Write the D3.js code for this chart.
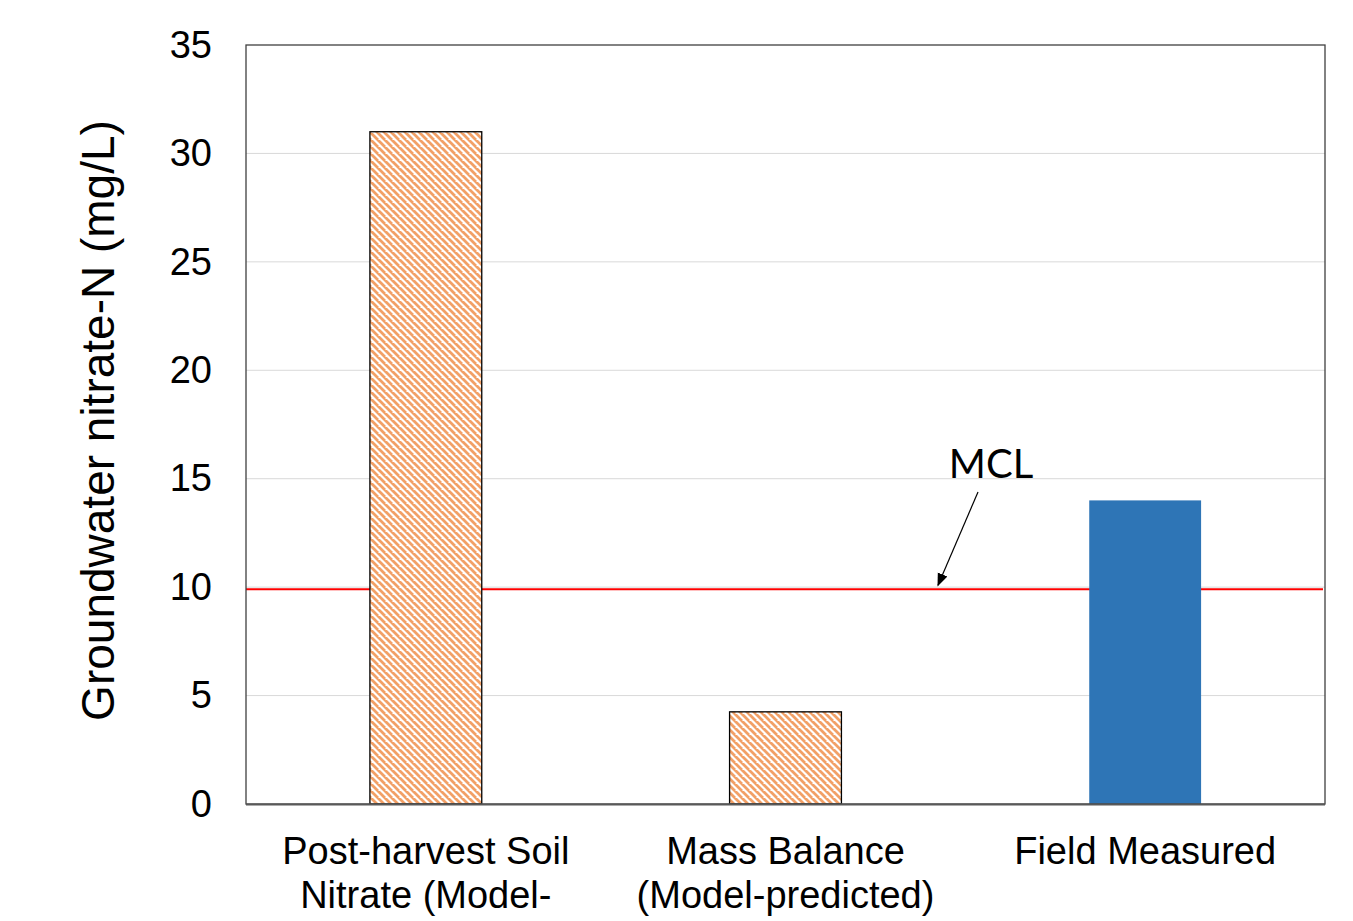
<!DOCTYPE html>
<html>
<head>
<meta charset="utf-8">
<script src="https://cdn.jsdelivr.net/npm/d3@7"></script>
<style>
  html, body { margin: 0; padding: 0; background: #fff; }
  svg { display: block; }
</style>
</head>
<body>
<svg id="chart" width="1353" height="921"></svg>
<script>
// ---- Data ----
const categories = ["Post-harvest Soil Nitrate (Model-predicted)", "Mass Balance (Model-predicted)", "Field Measured"];
const categoryLabelLines = [["Post-harvest Soil", "Nitrate (Model-"], ["Mass Balance", "(Model-predicted)"], ["Field Measured"]];
const values = [31, 4.25, 14];
const fillTypes = ["hatch", "hatch", "solid"];
const mclValue = 9.9;
const mclLabel = "MCL";
const yTicks = [0, 5, 10, 15, 20, 25, 30, 35];
const yTitle = "Groundwater nitrate-N (mg/L)";

// ---- Layout ----
const plot = { left: 246, right: 1325, top: 45, bottom: 804 };
const svg = d3.select("#chart");

const defs = svg.append("defs");
const pat = defs.append("pattern")
  .attr("id", "hatch").attr("patternUnits", "userSpaceOnUse")
  .attr("width", 7).attr("height", 7);
pat.append("rect").attr("width", 7).attr("height", 7).attr("fill", "#fff");
pat.append("path")
  .attr("d", "M-1,-1 L8,8 M-4,3 L0,7 M3,-4 L11,4")
  .attr("stroke", "#F2A066").attr("stroke-width", 2.8);

const x = d3.scaleBand().domain(categories)
  .range([plot.left, plot.right]).paddingInner(0.689).paddingOuter(0.3445);
const y = d3.scaleLinear().domain([0, 35]).range([plot.bottom, plot.top]);

// gridlines
svg.append("g").selectAll("line").data(yTicks.filter(t => t > 0 && t < 35)).join("line")
  .attr("x1", plot.left).attr("x2", plot.right)
  .attr("y1", d => y(d)).attr("y2", d => y(d))
  .attr("stroke", "#d9d9d9").attr("stroke-width", 1);

// MCL line (behind bars)
svg.append("line")
  .attr("x1", plot.left).attr("x2", plot.right - 2)
  .attr("y1", y(mclValue)).attr("y2", y(mclValue))
  .attr("stroke", "#FF0000").attr("stroke-width", 2);

// bars
svg.append("g").selectAll("rect").data(values).join("rect")
  .attr("x", (d, i) => x(categories[i]))
  .attr("width", x.bandwidth())
  .attr("y", d => y(d))
  .attr("height", d => y(0) - y(d))
  .attr("fill", (d, i) => fillTypes[i] === "hatch" ? "url(#hatch)" : "#2E75B6")
  .attr("stroke", (d, i) => fillTypes[i] === "hatch" ? "#000" : "none")
  .attr("stroke-width", 1.3);

// plot frame
svg.append("rect")
  .attr("x", plot.left).attr("y", plot.top)
  .attr("width", plot.right - plot.left).attr("height", plot.bottom - plot.top)
  .attr("fill", "none").attr("stroke", "#404040").attr("stroke-width", 1.3);
svg.append("line")
  .attr("x1", plot.left).attr("x2", plot.right)
  .attr("y1", plot.bottom + 0.5).attr("y2", plot.bottom + 0.5)
  .attr("stroke", "#595959").attr("stroke-width", 2);

// y axis tick labels
const yAxis = d3.axisLeft(y).tickValues(yTicks).tickSize(0).tickPadding(34).tickFormat(d3.format("d"));
const gy = svg.append("g").attr("transform", `translate(${plot.left},0)`).call(yAxis);
gy.select(".domain").remove();
gy.selectAll("text").attr("font-family", "Liberation Sans, Arial, sans-serif")
  .attr("font-size", 38).attr("fill", "#000");

// x labels
const gx = svg.append("g");
categories.forEach((c, i) => {
  const cx = x(c) + x.bandwidth() / 2;
  const t = gx.append("text")
    .attr("x", cx).attr("y", 864)
    .attr("text-anchor", "middle")
    .attr("font-family", "Liberation Sans, Arial, sans-serif")
    .attr("font-size", 38).attr("fill", "#000");
  categoryLabelLines[i].forEach((ln, j) => {
    t.append("tspan").attr("x", cx).attr("dy", j === 0 ? 0 : 44).text(ln);
  });
});

// y title
svg.append("text")
  .attr("transform", `translate(114, ${(plot.top + plot.bottom) / 2 - 4}) rotate(-90)`)
  .attr("text-anchor", "middle")
  .attr("font-family", "Liberation Sans, Arial, sans-serif")
  .attr("font-size", 46).attr("fill", "#000")
  .text(yTitle);

// MCL annotation
const arrowEnd = { x: 938, y: y(mclValue) - 4 };
const arrowStart = { x: 978, y: 492 };
defs.append("marker").attr("id", "arrow").attr("viewBox", "0 0 10 10")
  .attr("refX", 9).attr("refY", 5).attr("markerWidth", 13).attr("markerHeight", 13)
  .attr("markerUnits", "userSpaceOnUse").attr("orient", "auto")
  .append("path").attr("d", "M0,1 L10,5 L0,9 Z").attr("fill", "#000");
svg.append("line")
  .attr("x1", arrowStart.x).attr("y1", arrowStart.y)
  .attr("x2", arrowEnd.x).attr("y2", arrowEnd.y)
  .attr("stroke", "#000").attr("stroke-width", 1.2)
  .attr("marker-end", "url(#arrow)");
svg.append("text")
  .attr("x", 991).attr("y", 478)
  .attr("text-anchor", "middle")
  .attr("font-family", "Lato, Carlito, Calibri, sans-serif")
  .attr("font-size", 40).attr("fill", "#000")
  .text(mclLabel);
</script>
</body>
</html>
